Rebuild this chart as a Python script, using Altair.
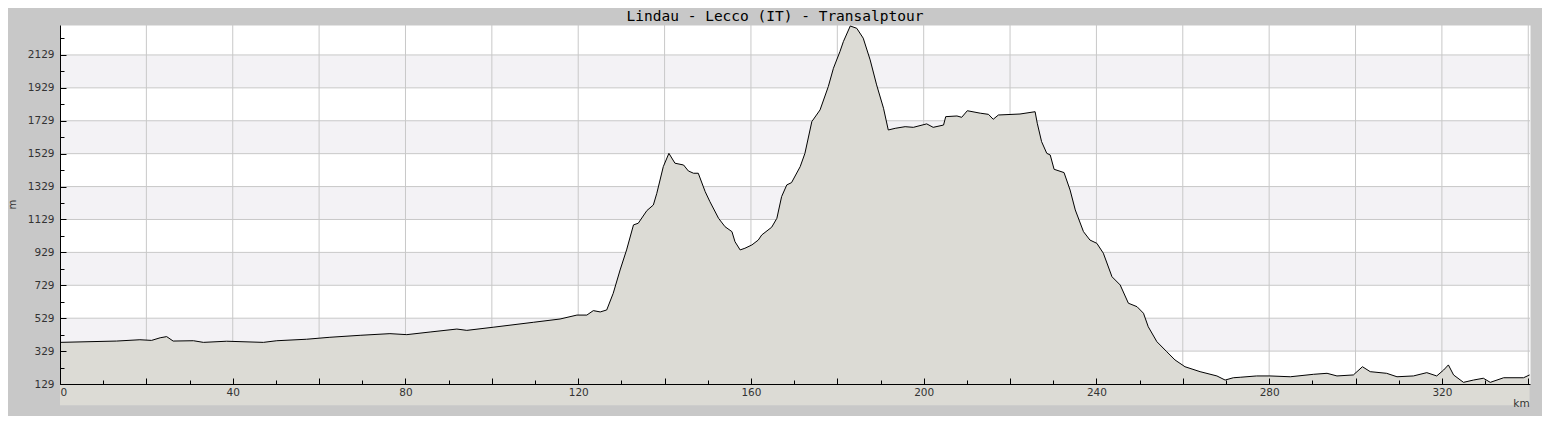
import altair as alt
import pandas as pd

# Elevation profile (km, m)
km = [0, 13.1, 18.5, 21.2, 23.2, 24.7, 26.2, 30.9, 33.2, 38.6, 47.1, 50.2, 57.1, 62.5, 69.5,
      76.4, 80.3, 85.7, 91.9, 94.2, 100.3, 109.6, 115.8, 119.7, 122.0, 123.5, 125.1, 126.6,
      128.1, 129.7, 131.2, 132.8, 133.9, 135.9, 137.4, 138.2, 139.7, 141.0, 142.4, 144.4,
      145.5, 146.7, 147.8, 149.4, 150.5, 152.5, 154.0, 155.6, 156.3, 157.5, 158.6, 160.2,
      161.7, 162.5, 164.8, 166.0, 167.1, 168.3, 169.4, 171.4, 172.5, 174.1, 176.0, 177.9,
      179.1, 180.6, 181.4, 183.0, 184.5, 186.0, 187.6, 189.1, 190.7, 191.8, 193.4, 195.7,
      197.6, 200.7, 202.2, 204.6, 205.1, 207.7, 208.8, 210.1, 213.1, 215.0, 216.1, 217.3,
      222.3, 225.8, 226.3, 227.3, 228.5, 229.3, 230.2, 232.5, 233.9, 235.1, 237.0, 238.5,
      240.1, 241.6, 243.6, 245.5, 247.4, 249.4, 250.9, 252.0, 254.0, 256.3, 258.2, 260.5,
      264.0, 267.9, 269.8, 271.7, 273.3, 277.1, 280.2, 284.9, 290.3, 293.4, 295.7, 299.5,
      301.6, 303.4, 307.2, 309.6, 313.4, 316.5, 318.8, 320.4, 321.5, 322.7, 325.0, 327.3,
      329.6, 331.2, 334.3, 338.9, 340.3]
elev = [382, 390, 398, 394, 410, 417, 390, 392, 382, 389, 382, 392, 401, 413, 425,
        435, 429, 445, 463, 455, 474, 504, 524, 548, 548, 575, 567, 579,
        680, 822, 944, 1096, 1106, 1183, 1217, 1288, 1450, 1531, 1471, 1460,
        1424, 1410, 1410, 1298, 1237, 1136, 1085, 1055, 994, 944, 954, 974,
        1004, 1035, 1082, 1136, 1268, 1339, 1353, 1450, 1531, 1724, 1795, 1936,
        2048, 2149, 2210, 2305, 2291, 2231, 2099, 1947, 1805, 1673, 1683, 1693,
        1689, 1710, 1689, 1703, 1754, 1758, 1750, 1790, 1775, 1768, 1738, 1764,
        1770, 1784, 1714, 1602, 1531, 1521, 1434, 1414, 1308, 1187, 1055, 1004,
        984, 924, 781, 731, 620, 599, 559, 477, 386, 325, 275, 234,
        204, 178, 153, 167, 170, 178, 178, 173, 188, 194, 178, 184,
        234, 204, 194, 173, 178, 198, 178, 214, 245, 184, 139, 153,
        164, 139, 167, 167, 184]

x_domain = [0, 340.4]
y_domain = [129, 2311]
x_label_values = list(range(0, 321, 40))
x_tick_values = list(range(0, 341, 10))
x_grid_values = list(range(0, 341, 20))
y_label_values = list(range(129, 2130, 200))
y_tick_values = list(range(129, 2311, 100))
y_grid_values = list(range(329, 2130, 200))
band_lo = [329, 729, 1129, 1529, 1929]
band_hi = [529, 929, 1329, 1729, 2129]

W, H = 1470, 359
TXT = "#333333"
FONT = "DejaVu Sans"

prof = pd.DataFrame({"km": km, "elev": elev})
bands = pd.DataFrame({"lo": band_lo, "hi": band_hi})
xg = pd.DataFrame({"v": x_grid_values})
yg = pd.DataFrame({"v": y_grid_values})

xs = alt.Scale(domain=x_domain, nice=False, zero=False)
ys = alt.Scale(domain=y_domain, nice=False, zero=False)

band_layer = alt.Chart(bands).mark_rect(color="#f3f2f5").encode(
    x=alt.value(0), x2=alt.value(W),
    y=alt.Y("lo:Q", scale=ys, axis=None), y2="hi:Q")

xgrid_layer = alt.Chart(xg).mark_rule(color="#c8c8c8", strokeWidth=1).encode(
    x=alt.X("v:Q", scale=xs, axis=None), y=alt.value(0), y2=alt.value(H))

ygrid_layer = alt.Chart(yg).mark_rule(color="#c8c8c8", strokeWidth=1).encode(
    y=alt.Y("v:Q", scale=ys, axis=None), x=alt.value(0), x2=alt.value(W))

area_layer = alt.Chart(prof).mark_area(color="#dcdbd5").encode(
    x=alt.X("km:Q", scale=xs, axis=alt.Axis(
        orient="bottom", values=x_label_values, ticks=False, grid=False, format="d",
        domainColor="black", domainWidth=1, labelPadding=3,
        labelFont=FONT, labelFontSize=10.5, labelColor=TXT,
        title="km", titleFont=FONT, titleFontSize=10.5, titleFontWeight="normal",
        titleColor=TXT, titleX=1461, titleY=19, titleAlign="center",
        titleBaseline="middle", zindex=2)),
    y=alt.Y("elev:Q", scale=ys, axis=alt.Axis(
        orient="left", values=y_label_values, ticks=False, grid=False, format="d",
        domainColor="black", domainWidth=1, labelPadding=6,
        labelFont=FONT, labelFontSize=10.5, labelColor=TXT,
        title="m", titleFont=FONT, titleFontSize=10, titleFontWeight="normal",
        titleColor=TXT, titleX=-45, titleY=179, titleAngle=270,
        titleAlign="center", titleBaseline="alphabetic", zindex=2)),
)

line_layer = alt.Chart(prof).mark_line(color="black", strokeWidth=1).encode(
    x=alt.X("km:Q", scale=xs, axis=alt.Axis(
        orient="top", offset=-H, values=x_tick_values, labels=False, domain=False,
        grid=False, tickColor="black", tickWidth=1,
        tickSize={"condition": {"test": "datum.value % 20 == 0", "value": 6}, "value": 4},
        title=None, zindex=2)),
    y=alt.Y("elev:Q", scale=ys, axis=alt.Axis(
        orient="right", offset=-W, values=y_tick_values, labels=False, domain=False,
        grid=False, tickColor="black", tickWidth=1,
        tickSize={"condition": {"test": "(datum.value - 129) % 200 == 0", "value": 6}, "value": 4},
        title=None, zindex=2)),
)

chart = alt.layer(band_layer, xgrid_layer, ygrid_layer, area_layer, line_layer).resolve_axis(
    x="independent", y="independent"
).properties(
    width=W, height=H,
    title=alt.TitleParams("Lindau - Lecco (IT) - Transalptour", font="DejaVu Sans Mono",
                          fontSize=14.5, fontWeight="normal", color="black",
                          anchor="middle", frame="group", baseline="alphabetic",
                          offset=3, dx=-20, dy=15),
    autosize=alt.AutoSizeParams(type="none"),
    padding={"left": 52, "top": 17, "right": 12, "bottom": 32},
    background="#c8c8c8",
).configure_view(fill="white", strokeOpacity=0)

chart.save("out.html", embed_options={"renderer": "svg", "actions": False})
